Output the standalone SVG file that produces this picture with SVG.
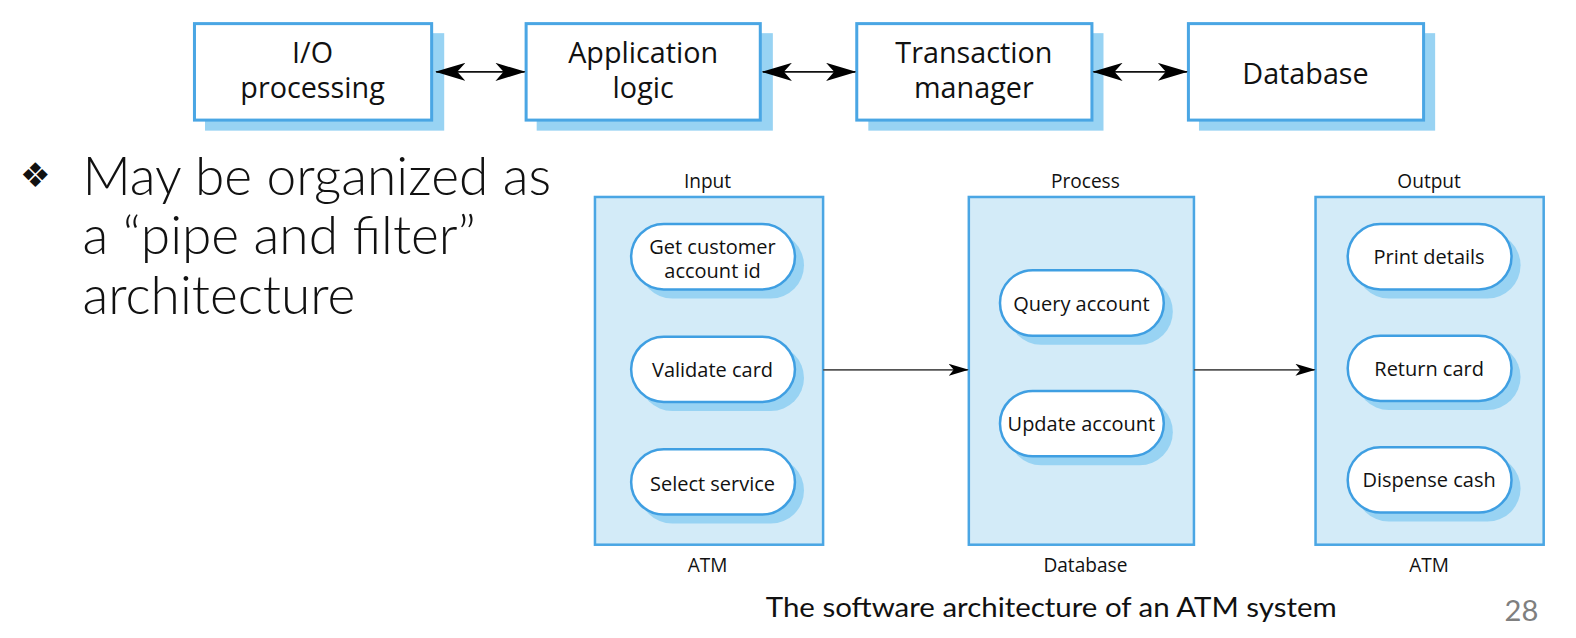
<svg xmlns="http://www.w3.org/2000/svg" width="1576" height="638" viewBox="0 0 1576 638">
<style>
.box{fill:#ffffff;stroke:#4aa6e4;stroke-width:3}
.shadow{fill:#98d3f3}
.panel{fill:#d3ebf8;stroke:#4aa6e4;stroke-width:2.5}
.pill{fill:#ffffff;stroke:#3f9fe2;stroke-width:2.5}
.t{font-family:"Open Sans","Noto Sans",sans-serif;fill:#111;text-anchor:middle}
.big{font-size:28.6px}
.mid{font-size:19.9px}
.lab{font-size:19px}
.bul{font-family:"Lato","Open Sans",sans-serif;font-weight:300;font-size:53px;fill:#111}
.cap{font-family:"Lato","Open Sans",sans-serif;font-size:27px;fill:#111}
.conn{stroke:#111;stroke-width:1.8;fill:none}
.conn2{stroke:#555;stroke-width:1.6;fill:none}
</style>
<defs>
<marker id="ah" viewBox="0 0 30 18" refX="29" refY="9" markerWidth="30" markerHeight="18" markerUnits="userSpaceOnUse" orient="auto-start-reverse">
<path d="M0,0 L30,9 L0,18 L8,9 Z" fill="#000"/>
</marker>
<marker id="as" viewBox="0 0 20 12" refX="19" refY="6" markerWidth="20" markerHeight="12" markerUnits="userSpaceOnUse" orient="auto">
<path d="M0,0 L20,6 L0,12 L5,6 Z" fill="#000"/>
</marker>
</defs>
<g transform="scale(1.005)">
<g id="io">
<rect class="shadow" x="204" y="33" width="238" height="97"/>
<rect class="box" x="193.5" y="23.5" width="236" height="96"/>
<text class="t big" x="311" y="63">I/O</text>
<text class="t big" x="311" y="98">processing</text>
</g>
<g id="app">
<rect class="shadow" x="534" y="33" width="235" height="97"/>
<rect class="box" x="523.5" y="23.5" width="233" height="96"/>
<text class="t big" x="640" y="63">Application</text>
<text class="t big" x="640" y="98">logic</text>
</g>
<g id="tm">
<rect class="shadow" x="864" y="33" width="234" height="97"/>
<rect class="box" x="852.5" y="23.5" width="234" height="96"/>
<text class="t big" x="969" y="63">Transaction</text>
<text class="t big" x="969" y="98">manager</text>
</g>
<g id="db">
<rect class="shadow" x="1193" y="33" width="235" height="97"/>
<rect class="box" x="1182.5" y="23.5" width="234" height="96"/>
<text class="t big" x="1299" y="84">Database</text>
</g>

<g id="input">
<rect class="panel" x="592" y="196" width="227" height="346"/>
<text class="t lab" x="704" y="187">Input</text>
<text class="t lab" x="704" y="569">ATM</text>
<rect class="shadow" x="636" y="231" width="164" height="66" rx="33"/>
<rect class="pill" x="628" y="223" width="163" height="65" rx="32.5"/>
<text class="t mid" x="709" y="253">Get customer</text>
<text class="t mid" x="709" y="277">account id</text>
<rect class="shadow" x="636" y="343" width="164" height="66" rx="33"/>
<rect class="pill" x="628" y="335" width="163" height="65" rx="32.5"/>
<text class="t mid" x="709" y="375">Validate card</text>
<rect class="shadow" x="636" y="455" width="164" height="66" rx="33"/>
<rect class="pill" x="628" y="447" width="163" height="65" rx="32.5"/>
<text class="t mid" x="709" y="489">Select service</text>
</g>

<g id="process">
<rect class="panel" x="964" y="196" width="224" height="346"/>
<text class="t lab" x="1080" y="187">Process</text>
<text class="t lab" x="1080" y="569">Database</text>
<rect class="shadow" x="1003" y="277" width="164" height="66" rx="33"/>
<rect class="pill" x="995" y="269" width="163" height="65" rx="32.5"/>
<text class="t mid" x="1076" y="309">Query account</text>
<rect class="shadow" x="1003" y="397" width="164" height="66" rx="33"/>
<rect class="pill" x="995" y="389" width="163" height="65" rx="32.5"/>
<text class="t mid" x="1076" y="429">Update account</text>
</g>

<g id="output">
<rect class="panel" x="1309" y="196" width="227" height="346"/>
<text class="t lab" x="1422" y="187">Output</text>
<text class="t lab" x="1422" y="569">ATM</text>
<rect class="shadow" x="1349" y="231" width="164" height="66" rx="33"/>
<rect class="pill" x="1341" y="223" width="163" height="65" rx="32.5"/>
<text class="t mid" x="1422" y="263">Print details</text>
<rect class="shadow" x="1349" y="342" width="164" height="66" rx="33"/>
<rect class="pill" x="1341" y="334" width="163" height="65" rx="32.5"/>
<text class="t mid" x="1422" y="374">Return card</text>
<rect class="shadow" x="1349" y="453" width="164" height="66" rx="33"/>
<rect class="pill" x="1341" y="445" width="163" height="65" rx="32.5"/>
<text class="t mid" x="1422" y="485">Dispense cash</text>
</g>

<g id="connectors">
<line class="conn" x1="434" y1="71.5" x2="522" y2="71.5" marker-start="url(#ah)" marker-end="url(#ah)"/>
<line class="conn" x1="759" y1="71.5" x2="851" y2="71.5" marker-start="url(#ah)" marker-end="url(#ah)"/>
<line class="conn" x1="1088" y1="71.5" x2="1181" y2="71.5" marker-start="url(#ah)" marker-end="url(#ah)"/>
<line class="conn2" x1="819" y1="368" x2="963" y2="368" marker-end="url(#as)"/>
<line class="conn2" x1="1188" y1="368" x2="1308" y2="368" marker-end="url(#as)"/>
</g>

<g id="text">
<text x="20" y="186" font-family="DejaVu Sans,sans-serif" font-size="34" fill="#111">❖</text>
<text class="bul" x="82" y="194">May be organized as</text>
<text class="bul" x="82" y="253">a “pipe and filter”</text>
<text class="bul" x="82" y="312">architecture</text>
<text class="cap" x="762" y="614" textLength="568" lengthAdjust="spacingAndGlyphs">The software architecture of an ATM system</text>
<text x="1497" y="618" font-family="Lato,'Open Sans',sans-serif" font-size="29" fill="#7f7f7f">28</text>
</g>
</g>
</svg>
